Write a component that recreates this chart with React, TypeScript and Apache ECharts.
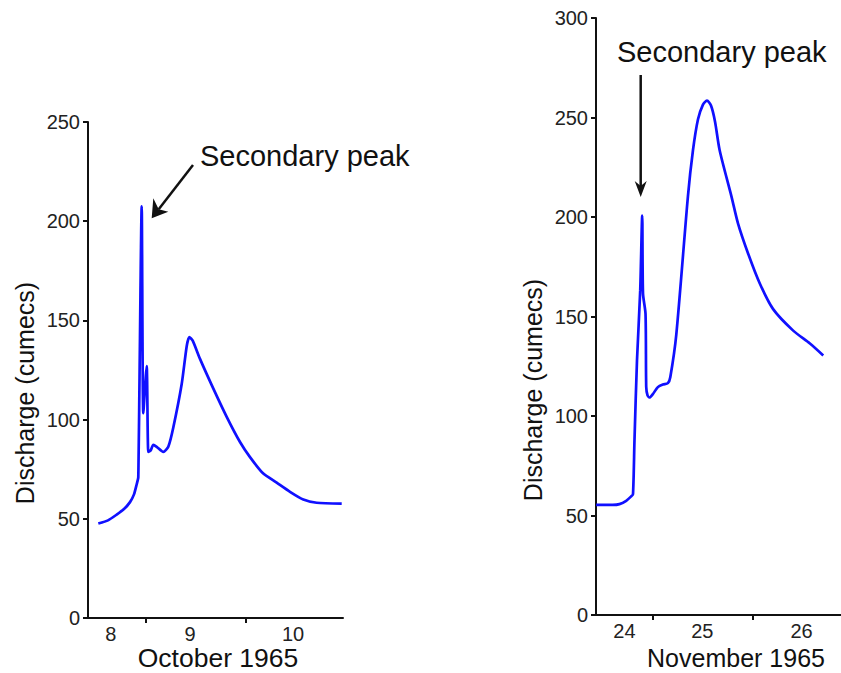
import React, { useEffect, useRef } from "react";
import * as echarts from "echarts";

// October 1965 event (x = day of month, fractional)
const octDays = [8.526, 8.623, 8.71, 8.783, 8.843, 8.883, 8.91, 8.926, 8.96, 8.976, 9.01, 9.026, 9.05, 9.076, 9.11, 9.176, 9.226, 9.276, 9.36, 9.41, 9.436, 9.47, 9.543, 9.673, 9.81, 9.943, 10.043, 10.176, 10.31, 10.443, 10.576, 10.71, 10.96];
const octQ = [47.6, 49.2, 52.1, 54.9, 58.4, 62.3, 67.4, 71, 207.5, 103.2, 127, 83.7, 84.5, 87.3, 86.3, 83.7, 86.3, 96, 117.9, 137, 141.6, 139.8, 130.6, 116, 101.4, 88.7, 81.1, 72.8, 68.2, 63.6, 59.7, 58.1, 57.6];

// November 1965 event
const novDays = [24.434, 24.6, 24.667, 24.734, 24.784, 24.802, 24.817, 24.842, 24.874, 24.894, 24.902, 24.927, 24.934, 24.947, 24.967, 25.0, 25.05, 25.1, 25.15, 25.174, 25.234, 25.35, 25.4, 25.45, 25.5, 25.54, 25.58, 25.62, 25.667, 25.784, 25.85, 25.95, 26.067, 26.2, 26.4, 26.567, 26.7];
const novQ = [55.3, 55.3, 55.7, 57.4, 59.6, 60.7, 88, 128, 163, 200.7, 161.5, 151.3, 114.6, 110.4, 109.3, 111, 114.5, 115.8, 116.5, 119.5, 140.9, 210.4, 233.4, 249, 256.5, 258.5, 256, 248, 233.4, 210.4, 196.7, 181.7, 166.6, 153.7, 142.9, 136.4, 130.4];

const octTicks = [9, 10];
const octLabelPos = [8.65, 9.443, 10.473];
const novTicks = [25, 26];
const novLabelPos = [24.717, 25.494, 26.484];

const FONT = "'Liberation Sans', Arial, Helvetica, sans-serif";
const BLUE = "#1010ff";

function pairs(xs: number[], ys: number[]) {
  return xs.map((x, i) => [x, ys[i]]);
}

export default function App() {
  const ref = useRef<HTMLDivElement>(null);
  useEffect(() => {
    if (!ref.current) return;
    const chart = echarts.init(ref.current, undefined, { renderer: "svg" });
    const axisLine = { lineStyle: { color: "#111", width: 2 } };
    const tickLabel = { color: "#222", fontSize: 20, fontFamily: FONT };
    const xAxisCommon = (min: number, max: number, ticks: number[], labels: number[], grid: number) => ({
      type: "value",
      gridIndex: grid,
      min,
      max,
      axisLine: { ...axisLine, onZero: false },
      axisTick: { show: true, customValues: ticks, length: 5, lineStyle: { color: "#111", width: 2 } },
      axisLabel: { ...tickLabel, margin: 6, customValues: labels, formatter: (v: number) => String(Math.floor(v)) },
      splitLine: { show: false },
    });
    const yAxisCommon = (max: number, grid: number) => ({
      type: "value",
      gridIndex: grid,
      min: 0,
      max,
      interval: 50,
      axisLine: { show: true, ...axisLine },
      axisTick: { show: true, length: 5, lineStyle: { color: "#111", width: 2 } },
      axisLabel: { ...tickLabel, margin: 8 },
      splitLine: { show: false },
    });
    const titleStyle = (text: string, size: number) => ({
      text,
      fontSize: size,
      fontFamily: FONT,
      fill: "#111",
      textAlign: "center",
      verticalAlign: "middle",
    });
    chart.setOption({
      animation: false,
      grid: [
        { left: 88, top: 122, width: 255, height: 496 },
        { left: 596, top: 18, width: 245, height: 597 },
      ],
      xAxis: [
        xAxisCommon(8.423, 10.973, octTicks, octLabelPos, 0),
        xAxisCommon(24.433, 26.877, novTicks, novLabelPos, 1),
      ],
      yAxis: [yAxisCommon(250, 0), yAxisCommon(300, 1)],
      series: [
        {
          type: "line",
          xAxisIndex: 0,
          yAxisIndex: 0,
          data: pairs(octDays, octQ),
          showSymbol: false,
          smooth: 0.2,
          lineStyle: { color: BLUE, width: 2.7 },
        },
        {
          type: "line",
          xAxisIndex: 1,
          yAxisIndex: 1,
          data: pairs(novDays, novQ),
          showSymbol: false,
          smooth: 0.25,
          lineStyle: { color: BLUE, width: 2.7 },
        },
      ],
      graphic: [
        { type: "text", x: 25, y: 393, rotation: Math.PI / 2, style: titleStyle("Discharge (cumecs)", 25) },
        { type: "text", x: 533, y: 390, rotation: Math.PI / 2, style: titleStyle("Discharge (cumecs)", 25) },
        { type: "text", x: 218, y: 658, style: titleStyle("October 1965", 26.5) },
        { type: "text", x: 736, y: 658, style: titleStyle("November 1965", 25) },
        { type: "text", x: 200, y: 156, style: { text: "Secondary peak", fontSize: 29, fontFamily: FONT, fill: "#111", textAlign: "left", verticalAlign: "middle" } },
        { type: "text", x: 617, y: 52, style: { text: "Secondary peak", fontSize: 29, fontFamily: FONT, fill: "#111", textAlign: "left", verticalAlign: "middle" } },
        // left arrow
        { type: "line", shape: { x1: 193, y1: 165, x2: 158.7, y2: 209.3 }, style: { stroke: "#111", lineWidth: 2.5 } },
        { type: "polygon", shape: { points: [[151.7, 218.3], [153.3, 198.3], [158.7, 209.3], [168.3, 211.7]] }, style: { fill: "#111" } },
        // right arrow
        { type: "line", shape: { x1: 640.7, y1: 75, x2: 640.7, y2: 187 }, style: { stroke: "#111", lineWidth: 2.5 } },
        { type: "polygon", shape: { points: [[640.7, 197], [634.7, 181], [640.7, 186], [646.7, 181]] }, style: { fill: "#111" } },
      ],
    });
    return () => chart.dispose();
  }, []);
  return <div ref={ref} style={{ position: "fixed", left: 0, top: 0, width: 841, height: 673, background: "#fff" }} />;
}
